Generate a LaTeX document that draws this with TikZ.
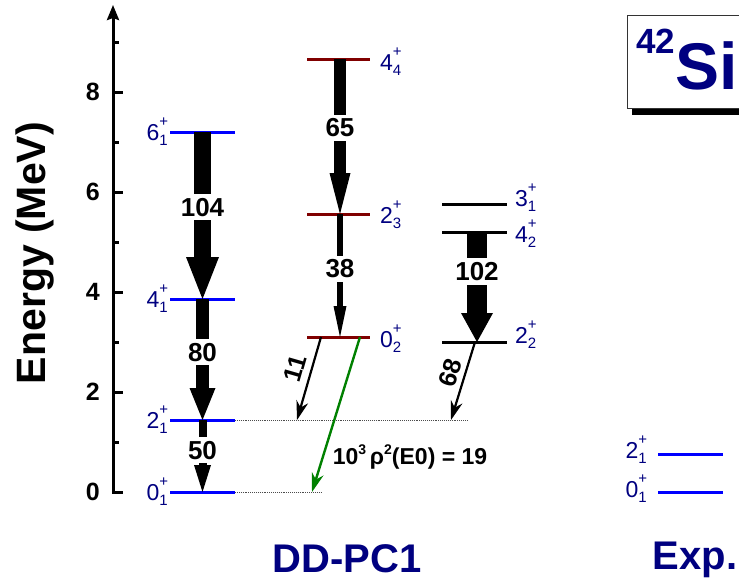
\documentclass[tikz,border=0pt]{standalone}
\usepackage{fontspec}
\setmainfont{Liberation Sans}
\usepackage{xcolor}
\definecolor{navy}{RGB}{0,0,128}
\definecolor{lvlblue}{RGB}{0,0,255}
\definecolor{lvlred}{RGB}{128,0,0}
\definecolor{ezero}{RGB}{0,128,0}
\usetikzlibrary{arrows.meta,calc}
\newcommand\fs[1]{\fontsize{#1}{#1}\selectfont}
% spin label: value, + above, index below
\newcommand\jpi[2]{#1\makebox[0pt][l]{\raisebox{14pt}{\fs{15}+}}\raisebox{-5pt}{\fs{15}#2}}
\tikzset{
  level/.style={line width=3pt},
  lab/.style={text=navy,font=\fs{23},inner sep=0pt},
  rate/.style={fill=white,font=\fs{26}\bfseries,inner xsep=2pt,inner ysep=4pt},
  fat/.style n args={3}{line width=#1,-{Triangle[width=#2,length=#3,line width=0pt]}},
  trans/.style={line width=2.2pt,-{Stealth[length=19pt,width=12pt,inset=6pt]}},
  guide/.style={densely dotted,line width=0.9pt,gray!60!black},
  tick/.style={line width=3pt},
  title/.style={text=navy,font=\fs{40}\bfseries,anchor=base,inner sep=0pt},
}
\begin{document}
\begin{tikzpicture}[x=1pt,y=-1pt]
\useasboundingbox (0,0) rectangle (739,581);
\clip (0,0) rectangle (739,581);
% energy axis
\coordinate (ax0) at (113,493.5);
\coordinate (axtop) at (113,5);
\draw[tick,-{Stealth[length=15pt,width=12pt,inset=2pt]}] (ax0) -- (axtop);
\foreach \e in {0,2,4,6,8}{
  \draw[tick] (113,{492-50*\e}) -- ++(10,0);
  \node[font=\fs{25}\bfseries,anchor=east,inner sep=0pt] (t\e) at (100,{492-50*\e}) {\e};
}
\foreach \e in {1,3,...,9}
  \draw[tick] (113,{492-50*\e}) -- ++(6,0);
\node[rotate=90,anchor=base,font=\fs{41}\bfseries,inner sep=0pt] (ylab) at (45,253) {Energy (MeV)};

% DD-PC1, ground band
\foreach \n/\y in {6/132,4/299,2/420,0/492}{
  \draw[level,lvlblue] (170,\y) -- (235,\y);
  \coordinate (a\n) at (202.5,\y);
  \node[lab,anchor=base east] (la\n) at (168,\y+8) {\jpi{\n}{1}};
}
\draw[fat={16.7pt}{33pt}{42pt}] (a6) -- node[rate,pos=0.45] (r104) {104} (a4);
\draw[fat={13pt}{26pt}{32pt}] (a4) -- node[rate,pos=0.44] (r80) {80} (a2);
\draw[fat={8pt}{17pt}{27pt}] (a2) -- node[rate,pos=0.42] (r50) {50} (a0);

% DD-PC1, second band
\foreach \n/\i/\y/\d in {4/4/59/11,2/3/214/9,0/2/337/10}{
  \draw[level,lvlred] (307,\y) -- (370,\y);
  \coordinate (b\n) at (340,\y);
  \node[lab,anchor=base west] (lb\n) at (380,\y+\d) {\jpi{\n}{\i}};
}
\draw[fat={12pt}{21pt}{41pt}] (b4) -- node[rate,pos=0.445] (r65) {65} (b2);
\draw[fat={6pt}{13pt}{31pt}] (b2) -- node[rate,pos=0.447] (r38) {38} (b0);

% DD-PC1, gamma band
\foreach \n/\j/\i/\y/\d in {3/3/1/204/2,4/4/2/232/10,2/2/2/342/1}{
  \draw[level] (442,\y) -- (507,\y);
  \coordinate (c\n) at (477,\y);
  \node[lab,anchor=base west] (lc\n) at (515,\y+\d) {\jpi{\j}{\i}};
}
\draw[fat={20pt}{32pt}{29pt}] (c4) -- node[rate,pos=0.36] (r102) {102} (c2);

% decays to the 2+_1 level and E0 to the ground state
\coordinate (d2a) at (235,420); \coordinate (d2b) at (468,420);
\coordinate (d0a) at (235,492); \coordinate (d0b) at (322,492);
\draw[guide] (d2a) -- (d2b);
\draw[guide] (d0a) -- (d0b);
\coordinate (s11) at (321,337); \coordinate (e11) at (297,420);
\coordinate (s68) at (475,342); \coordinate (e68) at (451,420);
\draw[trans] (s11) -- (e11);
\draw[trans] (s68) -- (e68);
\node[font=\fs{25}\bfseries,rotate=74,inner sep=0pt] (r11) at (295,368) {11};
\node[font=\fs{25}\bfseries,rotate=73,inner sep=0pt] (r68) at (450,373) {68};
\coordinate (g0) at (360,337); \coordinate (g1) at (312,492);
\draw[trans,ezero,line width=2.4pt] (g0) -- (g1);
\node[font=\fs{23}\bfseries,inner sep=0pt] (rho) at (410,457)
  {10\raisebox{0.45em}{\fs{14}3}\,ρ\raisebox{0.45em}{\fs{14}2}(E0) = 19};

% experiment
\foreach \n/\y/\d in {2/454/4,0/492/5}{
  \draw[level,lvlblue] (658,\y) -- (723,\y);
  \node[lab,anchor=base east] (le\n) at (647,\y+\d) {\jpi{\n}{1}};
}

% nucleus box
\fill (632,21) rectangle (760,115);
\draw[fill=white,draw=gray!40!black,line width=1pt] (627,15) rectangle (760,108);
\node[anchor=base west,text=navy,font=\bfseries,inner sep=0pt] (nuc) at (636,89)
  {\raisebox{36pt}{\fs{35}42}\fs{66}Si};

\node[title] (model) at (347,572) {DD-PC1};
\node[title] (expt) at (695,569) {Exp.};
\end{tikzpicture}
\end{document}
